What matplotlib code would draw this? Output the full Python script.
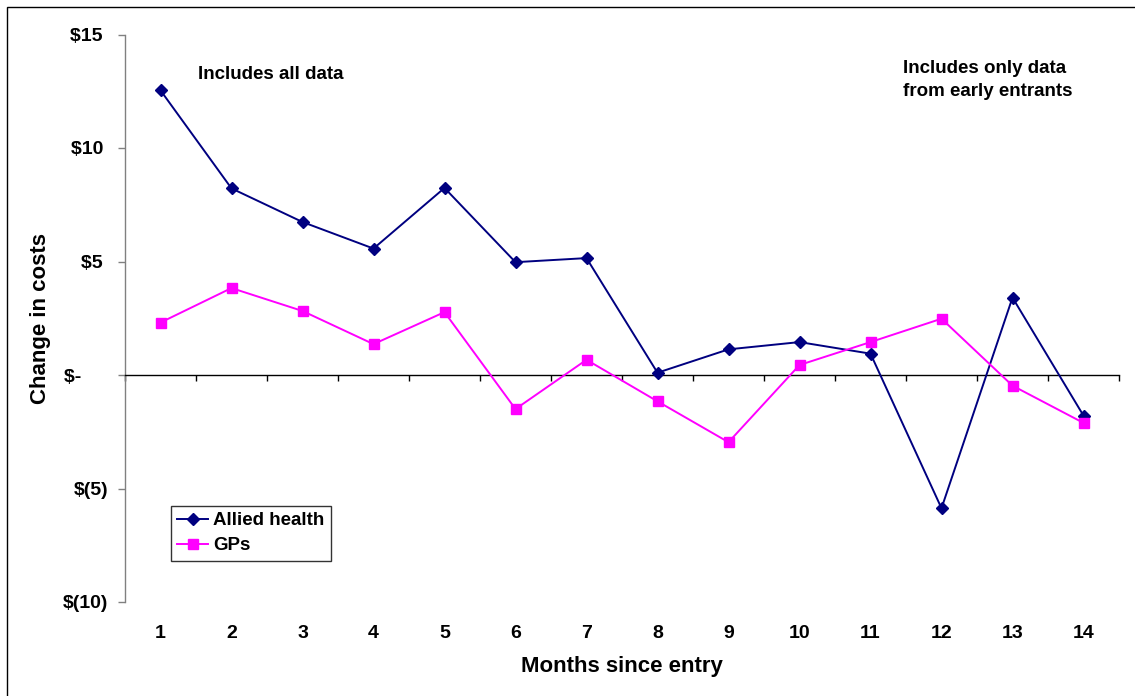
import matplotlib
matplotlib.use("Agg")
import matplotlib.pyplot as plt
from matplotlib.patches import Rectangle
from matplotlib.ticker import FixedLocator, FuncFormatter

plt.rcParams['font.family'] = ['Liberation Sans', 'DejaVu Sans']
plt.rcParams['font.weight'] = 'bold'

# Monthly change in costs after entry
months = list(range(1, 15))
allied_health = [12.54, 8.22, 6.74, 5.57, 8.24, 4.97, 5.15, 0.10, 1.13, 1.45, 0.94, -5.87, 3.41, -1.79]
gps = [2.31, 3.83, 2.82, 1.36, 2.77, -1.50, 0.67, -1.16, -2.96, 0.44, 1.45, 2.48, -0.47, -2.11]
y_ticks = [15, 10, 5, 0, -5, -10]

NAVY = '#000080'
MAGENTA = '#FF00FF'

fig = plt.figure(figsize=(11.35, 6.96), dpi=100)
fig.patches.append(Rectangle((7 / 1135, -0.05), 1.2, (696 - 6.5) / 696 + 0.05,
                             transform=fig.transFigure, fill=False,
                             edgecolor='black', linewidth=1.0, zorder=0))

ax = fig.add_axes([125 / 1135, (696 - 602) / 696, 994 / 1135, 567.5 / 696])

ax.plot(months, allied_health, color=NAVY, marker='D', markersize=6,
        linewidth=1.4, label='Allied health', zorder=3)
ax.plot(months, gps, color=MAGENTA, marker='s', markersize=6.5,
        linewidth=1.4, label='GPs', zorder=3)

ax.set_xlim(0.5, 14.5)
ax.set_ylim(-10, 15)

# y axis: accounting-style dollar labels
def dollar(v, _pos=None):
    v = int(round(v))
    if v > 0:
        return f'${v} '
    if v < 0:
        return f'$({-v})'
    return '$-     '

ax.yaxis.set_major_locator(FixedLocator(y_ticks))
ax.yaxis.set_major_formatter(FuncFormatter(dollar))
ax.tick_params(axis='y', which='major', direction='out', length=5,
               width=1, color='#808080', labelsize=14, pad=7)

for side in ('top', 'right'):
    ax.spines[side].set_visible(False)
ax.spines['left'].set_color('#808080')
ax.spines['left'].set_linewidth(1.0)

# category axis runs along zero, with ticks between categories
ax.spines['bottom'].set_position(('data', 0))
ax.spines['bottom'].set_color('black')
ax.spines['bottom'].set_linewidth(1.0)
ax.xaxis.set_major_locator(FixedLocator(months))
ax.xaxis.set_minor_locator(FixedLocator([m + 0.5 for m in [0] + months]))
ax.tick_params(axis='x', which='major', length=0, labelbottom=False)
ax.tick_params(axis='x', which='minor', direction='out', length=4.5,
               width=1, color='black')

# month labels below the plotting area
sec = ax.secondary_xaxis('bottom')
sec.xaxis.set_major_locator(FixedLocator(months))
sec.set_xticklabels([str(m) for m in months])
sec.tick_params(axis='x', length=0, labelsize=14, pad=16.5)
sec.spines['bottom'].set_visible(False)

ax.set_xlabel('Months since entry', fontsize=16, fontweight='bold')
ax.xaxis.set_label_coords(0.5, -0.095)
ax.set_ylabel('Change in costs', fontsize=16, fontweight='bold')
ax.yaxis.set_label_coords(-0.074, 0.5)

ax.text(2.556, 13.25, 'Includes all data', fontsize=13.5, fontweight='bold',
        ha='center', va='center')
ax.text(11.46, 13.0, 'Includes only data\nfrom early entrants', fontsize=13.5,
        fontweight='bold', ha='left', va='center', linespacing=1.48)

leg = ax.legend(loc='lower left', bbox_to_anchor=(0.046, 0.0728),
                borderaxespad=0, fontsize=13.5, frameon=True, fancybox=False,
                shadow=False, handlelength=1.65, handletextpad=0.27,
                borderpad=0.35, labelspacing=0.4)
leg.get_frame().set_edgecolor('black')
leg.get_frame().set_linewidth(1.0)

fig.savefig('out.png', dpi=100)
